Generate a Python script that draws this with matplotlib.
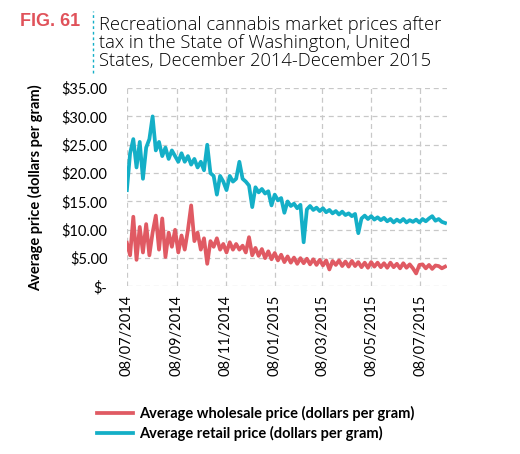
#! /usr/bin/env python3
"""
Recreational cannabis market prices, Washington State
"""

import matplotlib
matplotlib.use("Agg")
import matplotlib.pyplot as plt
import matplotlib.dates as mdates
import pandas as pd

# one reading every 4 days, 8 Jul 2014 onwards
start_date = "2014-07-08"
step = "4D"
retail = [
    17.0, 23.5, 26.0, 21.0, 25.5, 19.0, 24.5, 26.0, 30.0, 24.0,
    25.5, 23.0, 24.5, 22.5, 24.0, 23.0, 22.0, 23.5, 22.0, 23.0,
    21.5, 22.5, 21.0, 22.0, 20.5, 25.0, 20.0, 19.5, 16.2, 19.5,
    18.5, 17.0, 19.5, 18.5, 19.0, 22.0, 19.0, 18.5, 17.8, 14.0,
    17.5, 16.6, 17.2, 16.4, 16.8, 14.3, 16.2, 15.2, 15.6, 13.0,
    15.0, 14.2, 14.6, 13.8, 14.4, 7.8, 13.6, 14.2, 13.5, 13.9,
    13.3, 13.8, 13.1, 13.5, 12.9, 13.3, 12.7, 13.2, 12.6, 12.9,
    12.4, 12.8, 9.4, 12.0, 12.5, 11.9, 12.4, 11.8, 12.2, 11.7,
    12.1, 11.5, 11.9, 11.3, 11.8, 11.4, 11.9, 11.3, 11.7, 11.4,
    11.8, 11.3, 11.9, 11.5, 12.0, 12.4, 11.6, 11.9, 11.4, 11.2,
]
wholesale = [
    7.7, 5.5, 12.3, 4.7, 10.5, 6.0, 11.0, 5.5, 9.5, 12.5,
    6.5, 12.0, 5.2, 9.5, 7.0, 10.0, 6.0, 9.0, 6.5, 10.0,
    14.3, 8.0, 9.5, 6.5, 8.5, 4.0, 8.0, 7.0, 8.5, 6.5,
    7.5, 6.0, 7.8, 6.5, 7.5, 6.5, 7.2, 6.0, 8.7, 5.5,
    6.8, 5.4, 6.6, 5.0, 6.2, 4.8, 5.9, 4.6, 5.6, 4.3,
    5.3, 4.2, 5.1, 4.0, 5.0, 4.1, 4.9, 3.9, 4.8, 3.8,
    4.7, 3.7, 4.6, 3.0, 4.5, 3.8, 4.6, 3.6, 4.4, 3.5,
    4.5, 3.6, 4.3, 3.4, 4.2, 3.3, 4.3, 3.5, 4.2, 3.4,
    4.1, 3.3, 4.2, 3.4, 4.0, 3.2, 4.1, 3.3, 3.9, 3.2,
    2.3, 3.8, 3.9, 3.2, 3.8, 3.1, 3.7, 3.6, 3.2, 3.5,
]
tick_dates = ["2014-07-08", "2014-09-08", "2014-11-08", "2015-01-08",
              "2015-03-08", "2015-05-08", "2015-07-08"]
y_ticks = [0, 5, 10, 15, 20, 25, 30, 35]
y_labels = ["$-", "$5.00", "$10.00", "$15.00", "$20.00", "$25.00",
            "$30.00", "$35.00"]
label_wholesale = "Average wholesale price (dollars per gram)"
label_retail = "Average retail price (dollars per gram)"


def main():
    red, cyan = "#e05a63", "#14afc7"
    plt.rcParams["font.family"] = ["Lato", "DejaVu Sans"]
    dates = pd.date_range(start=start_date, periods=len(retail), freq=step)

    fig = plt.figure(figsize=(5.2, 4.54), dpi=100)
    ax = fig.add_axes([0.244, 0.369, 0.615, 0.437])
    ax.plot(dates, wholesale, color=red, lw=2.7, label=label_wholesale)
    ax.plot(dates, retail, color=cyan, lw=2.7, label=label_retail)

    ax.set_xlim(pd.Timestamp("2014-07-08"), pd.Timestamp("2015-08-10"))
    ax.set_ylim(0, 35)
    ax.set_yticks(y_ticks, y_labels, fontsize=10.5)
    ax.set_xticks(pd.to_datetime(tick_dates))
    ax.xaxis.set_major_formatter(mdates.DateFormatter("%d/%m/%Y"))
    ax.tick_params(axis="x", rotation=90, labelsize=10.5, length=0, pad=6)
    ax.tick_params(axis="y", length=0, pad=14)
    ax.grid(True, color="#c8c8c8", ls=(0, (4, 3)), lw=0.9)
    ax.set_axisbelow(True)
    for side in ax.spines.values():
        side.set_visible(False)
    ax.set_ylabel("Average price (dollars per gram)", fontsize=10.5,
                  fontweight="bold", labelpad=13)

    # header
    fig.text(0.038, 0.952, "FIG. 61", color="#e0525a", fontsize=13,
             fontweight="bold", va="center", family="Liberation Sans")
    fig.add_artist(plt.Line2D([0.179, 0.179], [0.84, 0.975],
                              color=cyan, lw=1, ls=(0, (2, 2))))
    fig.text(0.19, 0.905,
             "Recreational cannabis market prices after\n"
             "tax in the State of Washington, United\n"
             "States, December 2014-December 2015",
             fontsize=13.2, fontweight="light", va="center",
             linespacing=1.0, family="Open Sans")

    fig.legend(loc="upper left", bbox_to_anchor=(0.175, 0.118),
               frameon=False, handlelength=2.5, handletextpad=0.4,
               labelspacing=0.3, borderaxespad=0,
               prop={"weight": "bold", "size": 10.5})
    fig.savefig("out.png", dpi=100)


if __name__ == "__main__":
    main()
